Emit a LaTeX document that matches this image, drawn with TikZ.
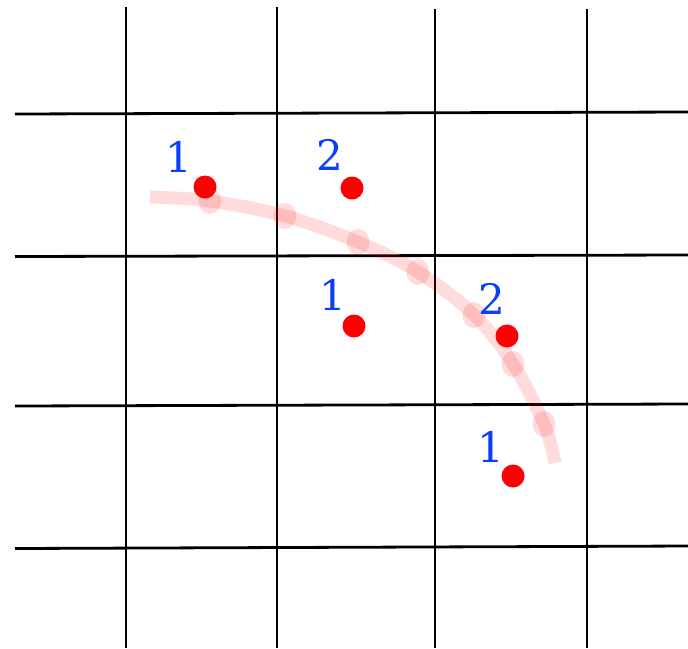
\documentclass[tikz,border=0pt]{standalone}
\usepackage{fontspec}
\newfontfamily\numfont{DejaVu Serif}
\usepackage{xcolor}
\definecolor{ink}{HTML}{000000}
\definecolor{numblue}{HTML}{0A3DFF}
\definecolor{dotred}{HTML}{FF0000}
\usepackage{tikz}
\usetikzlibrary{positioning, shapes.geometric}

\begin{document}
\begin{tikzpicture}[x=0.5pt, y=-0.5pt,
    gridline/.style={draw=ink, line width=1.4pt},
    pt/.style={circle, fill=dotred, inner sep=0pt, minimum size=11.5pt},
    num/.style={text=numblue, font=\numfont\fontsize{21}{25}\selectfont, inner sep=0pt},
    arc/.style={draw=dotred, draw opacity=0.14, line width=6.5pt, line cap=butt},
    hit/.style={ellipse, fill=dotred, fill opacity=0.14, inner sep=0pt, minimum width=11.5pt, minimum height=13pt}]
  \useasboundingbox (0,0) rectangle (688,648);
  % grid
  \draw[gridline] (15,114) -- (688,112);
  \draw[gridline] (15,256.5) -- (688,255);
  \draw[gridline] (15,406) -- (688,404);
  \draw[gridline] (15,548.5) -- (688,546);
  \foreach \x/\y in {126/7, 277/7, 435/9, 587/9}
    \draw[gridline] (\x,\y) -- (\x,648);
  % pink arc and its crossing marks
  \draw[arc] plot[smooth, tension=0.6] coordinates
    {(150,197) (210,201) (285,216) (358,242) (418,272) (474,315) (513,364) (544,424) (555,463)};
  \foreach \i/\x/\y in {0/210/201, 1/285/216, 2/358/242, 3/418/272, 4/474/315, 5/513/364, 6/544/424}
    \node[hit] (h\i) at (\x,\y) {};
  % sample points
  \node[pt] (p0) at (205,187) {};
  \node[pt] (p1) at (352,188) {};
  \node[pt] (p2) at (354,326) {};
  \node[pt] (p3) at (507,336) {};
  \node[pt] (p4) at (513,476) {};
  % labels
  \node[num] (l0) at (179,157) {1};
  \node[num] (l1) at (330,155) {2};
  \node[num] (l2) at (333,295) {1};
  \node[num] (l3) at (492,299) {2};
  \node[num] (l4) at (491,447) {1};
\end{tikzpicture}
\end{document}
